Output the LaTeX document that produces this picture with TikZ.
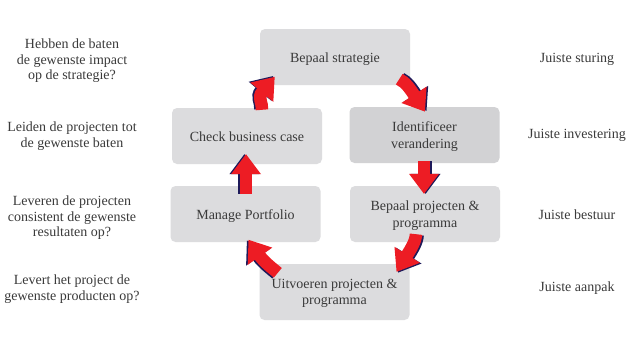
\documentclass[tikz,border=0pt]{standalone}
\usepackage{fontspec}
\setmainfont{Liberation Serif}
\usetikzlibrary{calc}
\definecolor{boxgray}{HTML}{DCDCDE}
\definecolor{boxdark}{HTML}{D2D2D4}
\definecolor{txt}{HTML}{3A3A3A}
\definecolor{ared}{HTML}{ED1C24}
\definecolor{anavy}{HTML}{1E1A5A}
% block arrow: #1 start, #2 start angle, #3 head base, #4 head angle, #5 colour
\newcommand{\cycarrow}[5]{%
 \pgfmathsetmacro{\cyA}{#2}%
 \pgfmathsetmacro{\cyB}{#4}%
 \pgfmathsetmacro{\cyC}{#4+180}%
 \pgfmathsetmacro{\cyL}{#4+90}%
 \pgfmathsetmacro{\cyR}{#4-90}%
 \coordinate (cyc1) at ($(#1)+(\cyA:7)$);
 \coordinate (cyc2) at ($(#3)+(\cyC:7)$);
 \coordinate (cyend) at ($(#3)+(\cyB:1)$);
 \coordinate (cytip) at ($(#3)+(\cyB:20)$);
 \coordinate (cyw1) at ($(#3)+(\cyL:15)$);
 \coordinate (cyw2) at ($(#3)+(\cyR:15)$);
 \draw[line width=12.5pt, draw=#5] (#1) .. controls (cyc1) and (cyc2) .. (cyend);
 \fill[#5] (cytip) -- (cyw1) -- (cyw2) -- cycle;
}
\newcommand{\shadedarrow}[5]{% #5 = outward shift of the navy edge
 \begin{scope}[transform canvas={shift={#5}}]\cycarrow{#1}{#2}{#3}{#4}{anavy}\end{scope}
 \cycarrow{#1}{#2}{#3}{#4}{ared}%
}
\begin{document}
\begin{tikzpicture}[x=1pt,y=1pt,
 stepbox/.style={fill=boxgray, rounded corners=5pt, minimum width=150pt, minimum height=56pt, inner sep=0pt, align=center, text=txt, font=\fontsize{14}{16.5}\selectfont},
 oneline/.style={text height=12pt, text depth=1pt},
 twoline/.style={text depth=0pt},
 note/.style={align=center, text=txt, inner sep=0pt, font=\fontsize{14}{15.5}\selectfont},
]
\useasboundingbox (0,0) rectangle (630,-349);
\fill[white] (0,0) rectangle (630,-349);

% boxes
\node[stepbox, oneline] (strat) at (335,-57) {Bepaal strategie};
\node[stepbox, oneline] (chk) at (247,-136) {Check business case};
\node[stepbox, twoline, fill=boxdark] (ident) at (424.5,-135) {Identificeer\\verandering};
\node[stepbox, oneline] (mgmt) at (245.5,-214) {Manage Portfolio};
\node[stepbox, twoline] (proj) at (425,-214) {Bepaal projecten \&\\programma};
\node[stepbox, twoline] (uitv) at (334.5,-292) {Uitvoeren projecten \&\\programma};

% arrow start points and head bases
\coordinate (a1s) at ($(chk.north)+(15,-2)$);
\coordinate (a1b) at ($(strat.south west)+(2,-7)$);
\coordinate (a2s) at ($(strat.south east)+(-11,6)$);
\coordinate (a2b) at ($(ident.north)+(-10.5,12)$);
\coordinate (a3s) at ($(ident.south)+(-0.5,2)$);
\coordinate (a3b) at ($(proj.north)+(-1,12)$);
\coordinate (a4s) at ($(proj.south)+(-9,8)$);
\coordinate (a4b) at ($(uitv.north east)+(-2.5,9)$);
\coordinate (a5s) at ($(uitv.north west)+(18.5,-9)$);
\coordinate (a5b) at ($(mgmt.south)+(14.5,-14)$);
\coordinate (a6s) at ($(mgmt.north)+(0.5,-8)$);
\coordinate (a6b) at ($(chk.south)+(-1,-10)$);

\shadedarrow{a1s}{85}{a1b}{50}{(-1.6pt,0.8pt)}
\shadedarrow{a2s}{-25}{a2b}{-57}{(1.6pt,0.8pt)}
\shadedarrow{a3s}{-90}{a3b}{-90}{(1.6pt,0pt)}
\shadedarrow{a4s}{-92}{a4b}{-122}{(1.6pt,-0.8pt)}
\shadedarrow{a5s}{140}{a5b}{125}{(-1.6pt,-0.8pt)}
\shadedarrow{a6s}{90}{a6b}{90}{(-1.6pt,0pt)}

% left questions
\node[note] (q1) at (72,-61) {Hebben de baten\\de gewenste impact\\op de strategie?};
\node[note] (q2) at (72,-136) {Leiden de projecten tot\\de gewenste baten};
\node[note] (q3) at (72,-218) {Leveren de projecten\\consistent de gewenste\\resultaten op?};
\node[note] (q4) at (72,-289) {Levert het project de\\gewenste producten op?};

% right labels
\node[note] (r1) at (577,-59) {Juiste sturing};
\node[note] (r2) at (577,-135) {Juiste investering};
\node[note] (r3) at (577,-215) {Juiste bestuur};
\node[note] (r4) at (577,-288) {Juiste aanpak};
\end{tikzpicture}
\end{document}
